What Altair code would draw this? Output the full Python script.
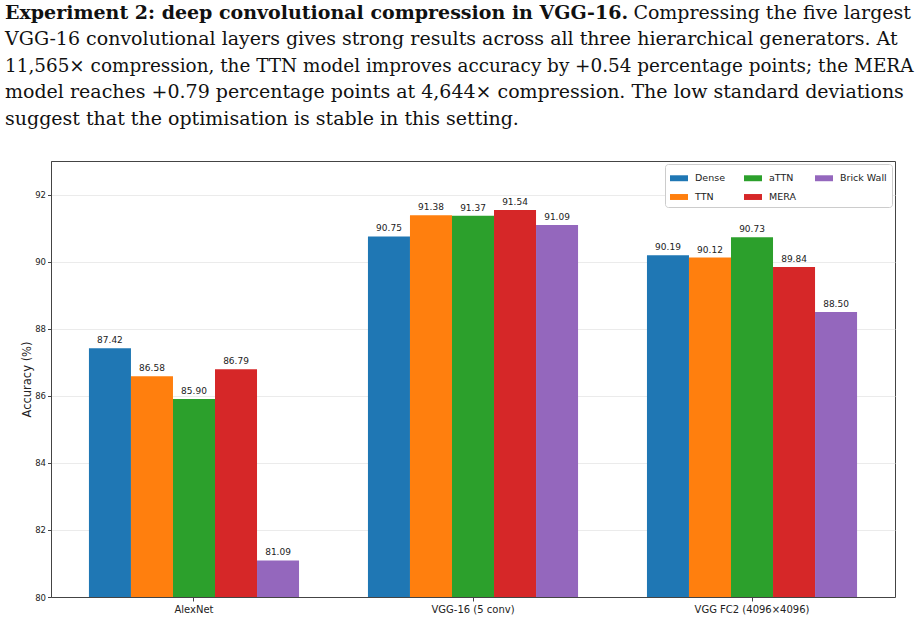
import altair as alt
import pandas as pd

categories = ["AlexNet", "VGG-16 (5 conv)", "VGG FC2 (4096×4096)"]
methods = ["Dense", "TTN", "aTTN", "MERA", "Brick Wall"]
colors = ["#1f77b4", "#ff7f0e", "#2ca02c", "#d62728", "#9467bd"]
alexnet = [87.42, 86.58, 85.90, 86.79, 81.09]
vgg16 = [90.75, 91.38, 91.37, 91.54, 91.09]
vggfc2 = [90.19, 90.12, 90.73, 89.84, 88.50]
y_ticks = [80, 82, 84, 86, 88, 90, 92]

para_bold = "Experiment 2: deep convolutional compression in VGG-16."
para_lines = [
    "Compressing the five largest",
    "VGG-16 convolutional layers gives strong results across all three hierarchical generators.  At",
    "11,565× compression, the TTN model improves accuracy by +0.54 percentage points; the MERA",
    "model reaches +0.79 percentage points at 4,644× compression.  The low standard deviations",
    "suggest that the optimisation is stable in this setting.",
]
line_sizes = [19, 19, 18.4, 19, 19]

rows = []
for cat, vals in zip(categories, [alexnet, vgg16, vggfc2]):
    for m, v in zip(methods, vals):
        rows.append({"category": cat, "method": m, "acc": v})
df = pd.DataFrame(rows)

FONT = "DejaVu Sans"
SERIF = "DejaVu Serif"

x_enc = alt.X(
    "category:N",
    sort=categories,
    scale=alt.Scale(paddingInner=0.247, paddingOuter=0.136),
    axis=alt.Axis(
        title=None, labelAngle=0, labelFont=FONT, labelFontSize=10,
        labelColor="#222", tickSize=4, tickColor="#444", domainColor="#444",
        labelPadding=3, grid=False,
    ),
)
xoff = alt.XOffset("method:N", sort=methods, scale=alt.Scale(paddingInner=0, paddingOuter=0))
y_enc = alt.Y(
    "acc:Q",
    scale=alt.Scale(domain=[80, 93], zero=False, nice=False),
    axis=alt.Axis(
        values=y_ticks, title="Accuracy (%)", titleFont=FONT, titleFontSize=11.5,
        titleFontWeight="normal", titleColor="#222", titlePadding=2,
        labelFont=FONT, labelFontSize=8.5, labelColor="#222",
        tickSize=3.5, tickColor="#444", domainColor="#444",
        grid=True, gridColor="#e6e6e6", gridWidth=0.8, labelPadding=2,
    ),
)

bars = alt.Chart(df).mark_bar().encode(
    x=x_enc,
    xOffset=xoff,
    y=y_enc,
    y2=alt.datum(80),
    color=alt.Color(
        "method:N",
        scale=alt.Scale(domain=methods, range=colors),
        legend=alt.Legend(
            title=None, orient="top-right", offset=3, columns=3,
            symbolType="M-1,-0.33L1,-0.33L1,0.33L-1,0.33Z", symbolSize=324,
            symbolStrokeWidth=0, symbolOpacity=1,
            labelFont=FONT, labelFontSize=9.5, labelColor="#222", labelOffset=7,
            columnPadding=19, rowPadding=5, padding=5,
            strokeColor="#cccccc", fillColor="white", cornerRadius=3,
        ),
    ),
)

labels = alt.Chart(df).mark_text(
    baseline="bottom", dy=-3, font=FONT, fontSize=9, color="#222"
).encode(
    x=alt.X("category:N", sort=categories),
    xOffset=alt.XOffset("method:N", sort=methods),
    y=alt.Y("acc:Q"),
    text=alt.Text("acc:Q", format=".2f"),
)

top = 161
base0 = 18.5
pitch = 26.5
layers = [bars, labels]
layers.append(
    alt.Chart(pd.DataFrame({"t": [para_bold]})).mark_text(
        align="left", baseline="alphabetic", font=SERIF, fontSize=line_sizes[0],
        fontWeight="bold", color="#111"
    ).encode(text="t:N", x=alt.value(-46), y=alt.value(base0 - top))
)
layers.append(
    alt.Chart(pd.DataFrame({"t": [para_lines[0]]})).mark_text(
        align="right", baseline="alphabetic", font=SERIF, fontSize=line_sizes[0], color="#111"
    ).encode(text="t:N", x=alt.value(860), y=alt.value(base0 - top))
)
for i, line in enumerate(para_lines[1:], start=1):
    layers.append(
        alt.Chart(pd.DataFrame({"t": [line]})).mark_text(
            align="left", baseline="alphabetic", font=SERIF, fontSize=line_sizes[i], color="#111"
        ).encode(text="t:N", x=alt.value(-46), y=alt.value(base0 + pitch * i - top))
    )

chart = alt.layer(*layers).properties(
    width=844, height=436,
    autosize=alt.AutoSizeParams(type="none"),
    padding={"left": 51, "top": 161, "right": 21, "bottom": 21},
    background="white",
).configure_view(stroke="#444", strokeWidth=1)

chart.save("out.html", embed_options={"renderer": "svg", "actions": False})
